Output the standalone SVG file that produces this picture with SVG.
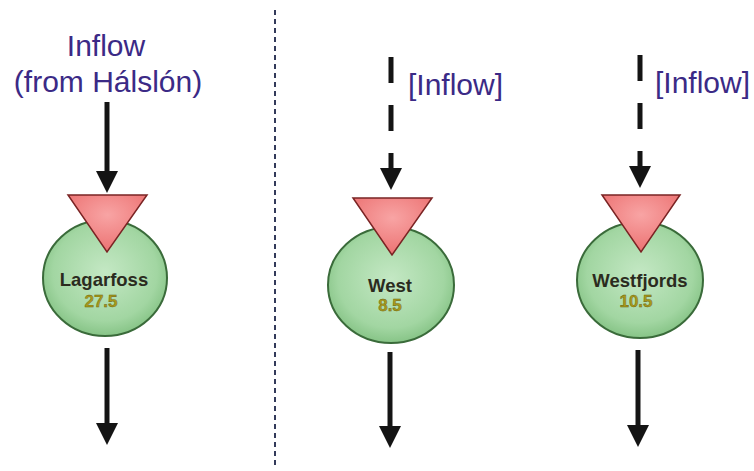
<svg xmlns="http://www.w3.org/2000/svg" width="754" height="471" viewBox="0 0 754 471">
  <style>
    .lbl { font-family: "Liberation Sans", Arial, sans-serif; font-size: 30px; fill: #3b2a86; }
    .name { font-family: "Liberation Sans", Arial, sans-serif; font-size: 18.5px; font-weight: bold; fill: #2b2b1e; text-anchor: middle; }
    .num { font-family: "Liberation Sans", Arial, sans-serif; font-size: 17px; font-weight: bold; fill: #a89a1a; stroke: #6b5e10; stroke-width: 0.4; text-anchor: middle; }
    .res { fill: url(#gGreen); stroke: #3a6b3a; stroke-width: 2; }
    .tri { fill: url(#gRed); stroke: #7a2424; stroke-width: 1.5; stroke-linejoin: miter; }
    .arr { stroke: #141414; stroke-width: 5; fill: none; marker-end: url(#head); }
    .dash { stroke-dasharray: 26 22; }
    .div { stroke: #333a5a; stroke-width: 2; stroke-dasharray: 5 4; }
  </style>
  <defs>
    <radialGradient id="gGreen" cx="50%" cy="45%" r="60%">
      <stop offset="0" stop-color="#c4e8c4"/>
      <stop offset="0.7" stop-color="#a2d6a2"/>
      <stop offset="1" stop-color="#7cbd7c"/>
    </radialGradient>
    <radialGradient id="gRed" cx="50%" cy="35%" r="65%">
      <stop offset="0" stop-color="#f8a4a4"/>
      <stop offset="1" stop-color="#ec7272"/>
    </radialGradient>
    <marker id="head" markerUnits="userSpaceOnUse" markerWidth="22" markerHeight="22" viewBox="0 0 22 22" refX="10" refY="11" orient="auto">
      <path d="M0,0 L22,11 L0,22 z" fill="#141414"/>
    </marker>
  </defs>

  <line class="div" x1="275" y1="10" x2="275" y2="465"/>

  <g id="connectors">
    <line class="arr" x1="107" y1="102" x2="107" y2="181"/>
    <line class="arr dash" x1="391" y1="57" x2="391" y2="178"/>
    <line class="arr dash" x1="640" y1="55" x2="640" y2="176"/>
    <line class="arr" x1="107" y1="348" x2="107" y2="433"/>
    <line class="arr" x1="390" y1="352" x2="390" y2="436"/>
    <line class="arr" x1="638" y1="350" x2="638" y2="435"/>
  </g>

  <g id="labels">
    <text class="lbl" x="106" y="56" text-anchor="middle">Inflow</text>
    <text class="lbl" x="108" y="92" text-anchor="middle">(from Hálslón)</text>
    <text class="lbl" x="408" y="95">[Inflow]</text>
    <text class="lbl" x="655" y="93">[Inflow]</text>
  </g>

  <g id="node-lagarfoss">
    <ellipse class="res" cx="105" cy="278" rx="62" ry="58"/>
    <polygon class="tri" points="68,195 147,195 107,252"/>
    <text class="name" x="104" y="286">Lagarfoss</text>
    <text class="num" x="101" y="307">27.5</text>
  </g>

  <g id="node-west">
    <ellipse class="res" cx="391" cy="285" rx="63" ry="58"/>
    <polygon class="tri" points="353,198 432,198 392,255"/>
    <text class="name" x="390" y="292">West</text>
    <text class="num" x="390" y="311">8.5</text>
  </g>

  <g id="node-westfjords">
    <ellipse class="res" cx="640" cy="280" rx="63" ry="58"/>
    <polygon class="tri" points="602,195 680,195 641,252"/>
    <text class="name" x="640" y="287">Westfjords</text>
    <text class="num" x="636" y="307">10.5</text>
  </g>
</svg>
